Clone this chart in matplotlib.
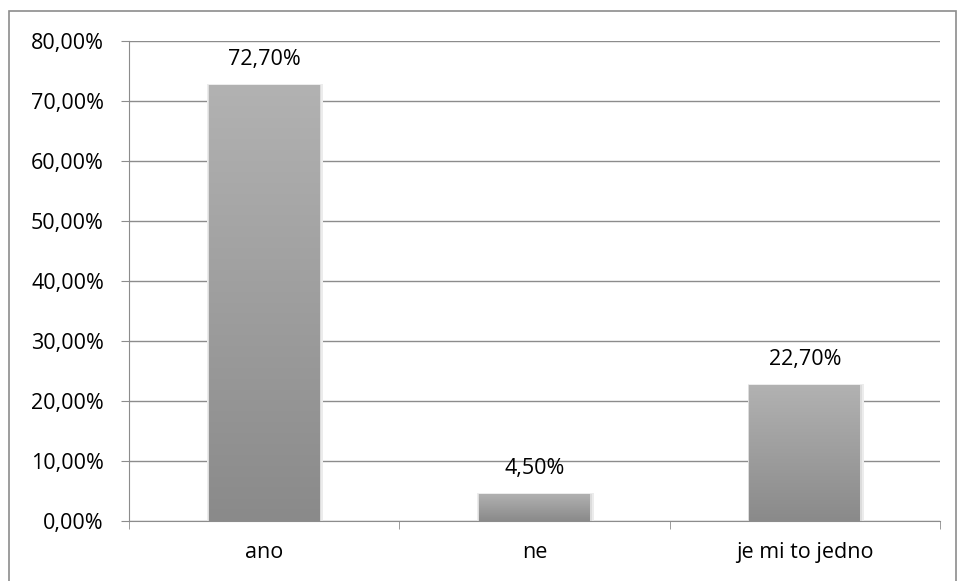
import matplotlib
matplotlib.use("Agg")
import matplotlib.pyplot as plt
import numpy as np
from matplotlib.patches import Rectangle
from matplotlib.colors import LinearSegmentedColormap

categories = ["ano", "ne", "je mi to jedno"]
values = [72.7, 4.5, 22.7]
labels = ["72,70%", "4,50%", "22,70%"]
yticks = [0, 10, 20, 30, 40, 50, 60, 70, 80]
ytick_labels = ["0,00%", "10,00%", "20,00%", "30,00%", "40,00%", "50,00%", "60,00%", "70,00%", "80,00%"]

plt.rcParams['font.family'] = ['Open Sans', 'DejaVu Sans']
FS = 15.5

W, H = 957, 581
fig = plt.figure(figsize=(W / 100, H / 100), dpi=100)
ax = fig.add_axes([129 / W, 1 - 521 / H, (940 - 129) / W, (521 - 41) / H])

# outer chart border
fig.patches.append(Rectangle((9 / W, -0.05), (956 - 9) / W, 1.05 - 11 / H,
                             transform=fig.transFigure, fill=False,
                             edgecolor="#8c8c8c", linewidth=1.2))

x = np.arange(len(categories))
bars = ax.bar(x, values, width=0.41, color="#a0a0a0", zorder=3)

cmap = LinearSegmentedColormap.from_list("g", ["#8a8a8a", "#b2b2b2"])
grad = np.linspace(0, 1, 256).reshape(-1, 1)
for b in bars:
    x0, y0 = b.get_x(), b.get_y()
    w, h = b.get_width(), b.get_height()
    # soft shadow
    for k, c in enumerate(["#ececec", "#dcdcdc"]):
        d = 0.007 * (2 - k)
        ax.add_patch(Rectangle((x0 - d * 0.5, y0), w + d * 1.5, h + 0.15 * (1 - k),
                               color=c, zorder=2, linewidth=0))
    im = ax.imshow(grad, extent=[x0, x0 + w, y0, y0 + h], origin="lower",
                   cmap=cmap, aspect="auto", zorder=4)
    im.set_clip_path(b)

for xi, v, lab in zip(x, values, labels):
    ax.text(xi, v + 2.5, lab, ha="center", va="bottom", fontsize=FS, color="#000000")

ax.set_xlim(-0.5, len(categories) - 0.5)
ax.set_ylim(0, 80)
ax.set_yticks(yticks)
ax.set_yticklabels(ytick_labels, fontsize=FS)
ax.yaxis.grid(True, color="#8c8c8c", linewidth=1.0, zorder=0)
ax.set_axisbelow(True)

ax.set_xticks(x)
ax.set_xticklabels(categories, fontsize=FS)
ax.tick_params(axis="x", length=0, pad=15)
ax.set_xticks(np.arange(len(categories) + 1) - 0.5, minor=True)
ax.tick_params(axis="x", which="minor", length=6, color="#8c8c8c")
ax.tick_params(axis="y", length=6, color="#8c8c8c", pad=12)

for s in ["top", "right"]:
    ax.spines[s].set_visible(False)
for s in ["left", "bottom"]:
    ax.spines[s].set_color("#8c8c8c")

fig.savefig("out.png", dpi=100)
